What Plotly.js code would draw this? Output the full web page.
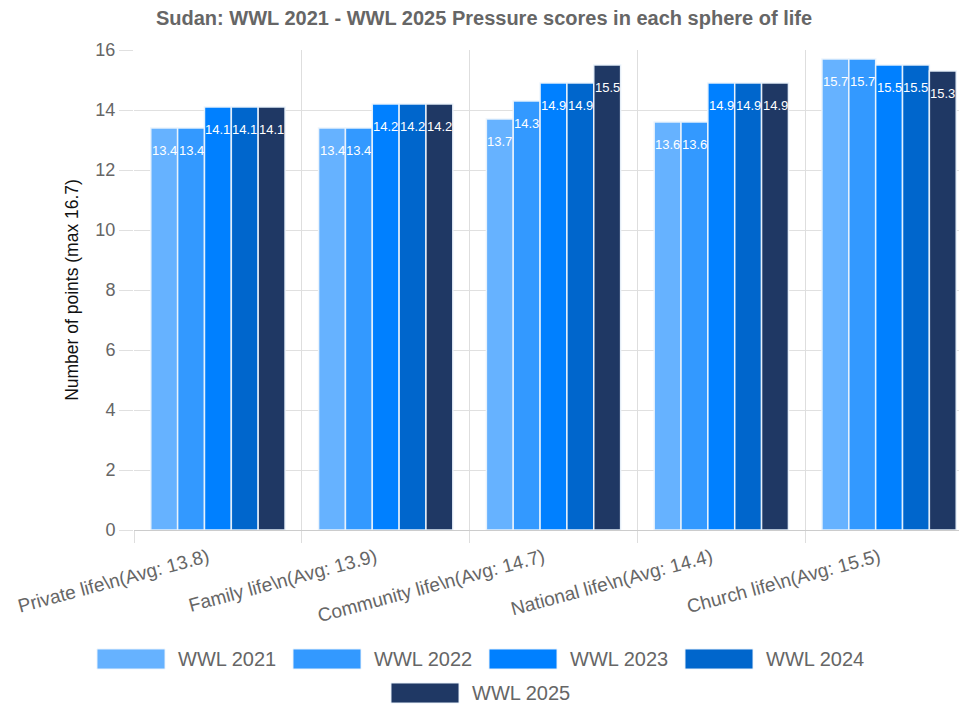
<!DOCTYPE html>
<html>
<head>
<meta charset="utf-8">
<script src="https://cdn.plot.ly/plotly-3.0.1.min.js"></script>
<style>
  html, body { margin: 0; padding: 0; background: #fff; overflow: hidden; }
  #chart { width: 959px; height: 704px; }
</style>
</head>
<body>
<div id="chart"></div>
<script>
// ---- data ----
const categories = [
  "Private life\\n(Avg: 13.8)",
  "Family life\\n(Avg: 13.9)",
  "Community life\\n(Avg: 14.7)",
  "National life\\n(Avg: 14.4)",
  "Church life\\n(Avg: 15.5)"
];
const seriesNames = ["WWL 2021", "WWL 2022", "WWL 2023", "WWL 2024", "WWL 2025"];
const wwl2021 = [13.4, 13.4, 13.7, 13.6, 15.7];
const wwl2022 = [13.4, 13.4, 14.3, 13.6, 15.7];
const wwl2023 = [14.1, 14.2, 14.9, 14.9, 15.5];
const wwl2024 = [14.1, 14.2, 14.9, 14.9, 15.5];
const wwl2025 = [14.1, 14.2, 15.5, 14.9, 15.3];
const yTicks = [0, 2, 4, 6, 8, 10, 12, 14, 16];
const titleText = "Sudan: WWL 2021 - WWL 2025 Pressure scores in each sphere of life";
const yTitleText = "Number of points (max 16.7)";

// ---- style ----
const seriesValues = [wwl2021, wwl2022, wwl2023, wwl2024, wwl2025];
const colors = ["#66b2ff", "#3399ff", "#0080ff", "#0066cc", "#1f3864"];
const W = 959, H = 704;
const M = { l: 134, r: 0, t: 50, b: 174 };
const plotW = W - M.l - M.r, plotH = H - M.t - M.b;
const FONT = "Liberation Sans, Arial, Helvetica, sans-serif";
const bargap = 0.2;
const nS = seriesNames.length;
const barW = (1 - bargap) / nS;
const xRange = [-0.5, -0.5 + plotW / 167.8];

const traces = seriesNames.map((name, j) => ({
  type: "bar",
  name: name,
  x: categories.map((c, i) => i),
  y: seriesValues[j],
  marker: { color: colors[j], line: { color: "rgba(235,243,252,0.95)", width: 1.5 } },
  hoverinfo: "y+name",
  showlegend: false
}));

const annotations = [];
seriesValues.forEach((vals, j) => {
  vals.forEach((v, i) => {
    annotations.push({
      x: i + (j - (nS - 1) / 2) * barW,
      y: v,
      xref: "x", yref: "y",
      text: v.toFixed(1),
      showarrow: false,
      yanchor: "top",
      yshift: -13,
      font: { family: FONT, size: 13, color: "#ffffff" }
    });
  });
});

// manual legend (Chart.js style, centred rows)
const px2x = px => (px - M.l) / plotW;
const py2y = py => (H - M.b - py) / plotH;
const shapes = [];
const perRow = 4, boxW = 68, boxH = 20, textGap = 11, itemW = 177, itemGap = 19;
const rowY = [659, 693];
for (let r = 0; r * perRow < nS; r++) {
  const items = seriesNames.slice(r * perRow, r * perRow + perRow);
  const rowWidth = items.length * itemW + (items.length - 1) * itemGap;
  const start = W / 2 - rowWidth / 2;
  items.forEach((name, k) => {
    const j = r * perRow + k;
    const x0 = start + k * (itemW + itemGap);
    const cy = rowY[r];
    shapes.push({
      type: "rect", xref: "paper", yref: "paper",
      x0: px2x(x0), x1: px2x(x0 + boxW),
      y0: py2y(cy + boxH / 2), y1: py2y(cy - boxH / 2),
      fillcolor: colors[j], line: { color: "rgba(235,243,252,0.95)", width: 1 }
    });
    annotations.push({
      xref: "paper", yref: "paper",
      x: px2x(x0 + boxW + textGap), y: py2y(cy),
      xanchor: "left", yanchor: "middle",
      text: name, showarrow: false,
      font: { family: FONT, size: 20, color: "#666666" }
    });
  });
}

const layout = {
  width: W, height: H,
  margin: M,
  paper_bgcolor: "#ffffff",
  plot_bgcolor: "#ffffff",
  font: { family: FONT, color: "#666666" },
  title: {
    text: "<b>" + titleText + "</b>",
    xref: "container", yref: "container",
    x: 484 / W, y: 1 - 18 / H, xanchor: "center", yanchor: "middle",
    font: { family: FONT, size: 20, color: "#666666" }
  },
  barmode: "group",
  bargap: bargap,
  bargroupgap: 0,
  xaxis: {
    type: "linear",
    range: xRange,
    tickmode: "array",
    tickvals: categories.map((c, i) => i),
    ticktext: categories,
    tickangle: -15,
    ticklabelstandoff: 12,
    ticklabelshift: -10,
    showgrid: false,
    ticks: "",
    tickfont: { family: FONT, size: 19, color: "#666666" },
    zeroline: false,
    showline: false,
    fixedrange: true
  },
  xaxis2: {
    overlaying: "x",
    matches: "x",
    range: xRange,
    tickmode: "array",
    tickvals: [-0.5, 0.5, 1.5, 2.5, 3.5, 4.5],
    ticktext: ["", "", "", "", "", ""],
    showgrid: true, gridcolor: "#dedede", gridwidth: 1,
    ticks: "outside", ticklen: 12, tickcolor: "#dedede",
    side: "bottom",
    zeroline: false, showline: false
  },
  yaxis: {
    range: [0, 16],
    tickmode: "array",
    tickvals: yTicks,
    ticks: "outside", ticklen: 14, tickcolor: "#e0e0e0",
    showgrid: true, gridcolor: "#e0e0e0", gridwidth: 1,
    zeroline: true, zerolinecolor: "#cccccc", zerolinewidth: 1,
    showline: false,
    tickfont: { family: FONT, size: 18, color: "#666666" },
    title: { text: yTitleText, standoff: 12, font: { family: FONT, size: 17.5, color: "#111111" } },
    fixedrange: true
  },
  shapes: shapes,
  annotations: annotations,
  showlegend: false
};

// invisible helper trace for the boundary gridline axis
traces.push({ type: "scatter", x: [0], y: [0], xaxis: "x2", mode: "markers",
  marker: { opacity: 0 }, hoverinfo: "skip", showlegend: false });

Plotly.newPlot("chart", traces, layout, { displayModeBar: false, staticPlot: true });
</script>
</body>
</html>
